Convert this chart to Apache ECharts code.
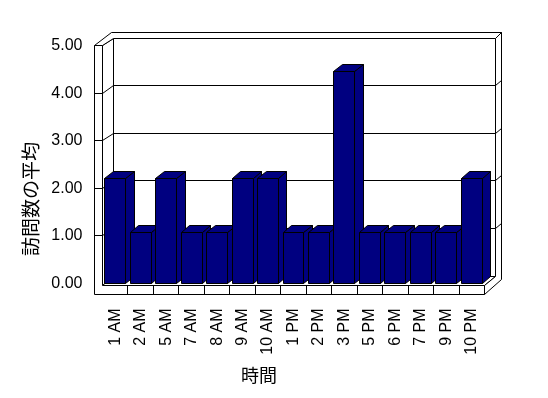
<!DOCTYPE html>
<html>
<head>
<meta charset="utf-8">
<script src="https://cdn.jsdelivr.net/npm/echarts@6/dist/echarts.min.js"></script>
<style>html,body{margin:0;padding:0;background:#fff;}#c{width:548px;height:398px;}</style>
</head>
<body>
<div id="c"></div>
<script>
var categories = ['1 AM','2 AM','5 AM','7 AM','8 AM','9 AM','10 AM','1 PM','2 PM','3 PM','5 PM','6 PM','7 PM','9 PM','10 PM'];
var values = [2.2, 1.08, 2.2, 1.08, 1.08, 2.2, 2.2, 1.08, 1.08, 4.46, 1.08, 1.08, 1.08, 1.08, 2.2];
var yTicks = [0, 1, 2, 3, 4, 5];
var xTitle = '時間';
var yTitle = '訪問数の平均';

function r(v) { return Math.floor(v) + 0.5; }
var WHITE = { fill: '#fff', stroke: '#000', lineWidth: 1 };

function poly(pts, style) {
  return { type: 'polygon', shape: { points: pts.map(function (p) { return [r(p[0]), r(p[1])]; }) }, style: style };
}
function pline(pts) {
  return { type: 'polyline', shape: { points: pts.map(function (p) { return [r(p[0]), r(p[1])]; }) }, style: { stroke: '#000', lineWidth: 1, fill: null } };
}

var DX = 10.5, DY = -7.5, T = 6, S = 8, FT = 1.5, FB = 11;

function renderFrame(params, api) {
  var n = categories.length;
  var band = api.size([1, 0])[0];
  var X0 = api.coord([0, 0])[0] - band / 2;
  var X1 = api.coord([n - 1, 0])[0] + band / 2;
  var Y0 = api.coord([0, yTicks[0]])[1];
  var Y5 = api.coord([0, yTicks[yTicks.length - 1]])[1];
  var ch = [];
  ch.push(poly([[X0 + DX, Y5 + DY], [X1 + DX, Y5 + DY], [X1 + DX, Y0 + DY], [X0 + DX, Y0 + DY]], WHITE));
  ch.push(poly([[X0, Y5], [X0 + DX, Y5 + DY], [X0 + DX, Y0 + DY], [X0, Y0 + FT]], WHITE));
  ch.push(poly([[X0, Y0 + FT], [X0 + DX, Y0 + DY], [X1 + DX, Y0 + DY], [X1, Y0 + FT]], WHITE));
  ch.push(poly([[X0 - S, Y5], [X0 + DX - 2, Y5 + DY - T + 0.5], [X1 + DX + T, Y5 + DY - T + 0.5], [X1 + DX, Y5 + DY], [X0 + DX, Y5 + DY], [X0, Y5]], WHITE));
  ch.push(poly([[X1 + DX, Y5 + DY], [X1 + DX + T, Y5 + DY - T + 0.5], [X1 + DX + T, Y0 + DY + 3.5], [X1, Y0 + FB], [X1, Y0 + FT], [X1 + DX, Y0 + DY]], WHITE));
  ch.push(poly([[X0 - S, Y5], [X0, Y5], [X0, Y0 + FT], [X1, Y0 + FT], [X1, Y0 + FB], [X0 - S, Y0 + FB]], WHITE));
  for (var k = 1; k < yTicks.length - 1; k++) {
    var y = api.coord([0, yTicks[k]])[1];
    ch.push(pline([[X0 - S, y], [X0, y], [X0 + DX, y + DY], [X1 + DX, y + DY], [X1 + DX + T, y + DY - 5]]));
  }
  for (var i = 1; i < n; i++) {
    var x = X0 + i * band;
    ch.push(pline([[x, Y0 + FT], [x, Y0 + FB]]));
  }
  return { type: 'group', children: ch };
}

var BDX = 8.5, BDY = -7, BW = 0.82;
var FILL = '#000080';
function renderBar(params, api) {
  var idx = api.value(0), val = api.value(1);
  var top = api.coord([idx, val]);
  var bot = api.coord([idx, 0]);
  var band = api.size([1, 0])[0];
  var w = band * BW;
  var xl = top[0] - w / 2, xr = top[0] + w / 2, yt = top[1], yb = bot[1];
  var st = { fill: FILL, stroke: '#000', lineWidth: 1 };
  return {
    type: 'group',
    children: [
      poly([[xr, yt], [xr + BDX, yt + BDY], [xr + BDX, yb + BDY], [xr, yb]], st),
      poly([[xl, yt], [xl + BDX, yt + BDY], [xr + BDX, yt + BDY], [xr, yt]], st),
      poly([[xl, yt], [xr, yt], [xr, yb], [xl, yb]], st)
    ]
  };
}

var chart = echarts.init(document.getElementById('c'), null, { renderer: 'canvas' });
chart.setOption({
  backgroundColor: '#fff',
  animation: false,
  grid: { left: 102.5, right: 63.5, top: 45.5, bottom: 114.5, containLabel: false },
  xAxis: {
    type: 'category', data: categories,
    axisLine: { show: false }, axisTick: { show: false }, splitLine: { show: false },
    axisLabel: { interval: 0, rotate: 90, margin: 25, color: '#000', fontSize: 16, fontFamily: 'Liberation Sans' }
  },
  yAxis: {
    type: 'value', min: yTicks[0], max: yTicks[yTicks.length - 1], interval: 1,
    axisLine: { show: false }, axisTick: { show: false }, splitLine: { show: false },
    axisLabel: { margin: 20, color: '#000', fontSize: 16, fontFamily: 'Liberation Sans', formatter: function (v) { return v.toFixed(2); } }
  },
  graphic: [
    { type: 'text', x: 259, y: 375, style: { text: xTitle, fontSize: 18, fontFamily: 'Noto Sans CJK JP', fill: '#000', align: 'center', verticalAlign: 'middle' } },
    { type: 'text', x: 31, y: 199, rotation: Math.PI / 2, style: { text: yTitle, fontSize: 19, fontFamily: 'Noto Sans CJK JP', fill: '#000', align: 'center', verticalAlign: 'middle' } }
  ],
  series: [
    { type: 'custom', silent: true, z: 1, renderItem: renderFrame, data: [[0, 0]] },
    { type: 'custom', silent: true, z: 2, renderItem: renderBar, data: values.map(function (v, i) { return [i, v]; }) }
  ]
});
</script>
</body>
</html>
